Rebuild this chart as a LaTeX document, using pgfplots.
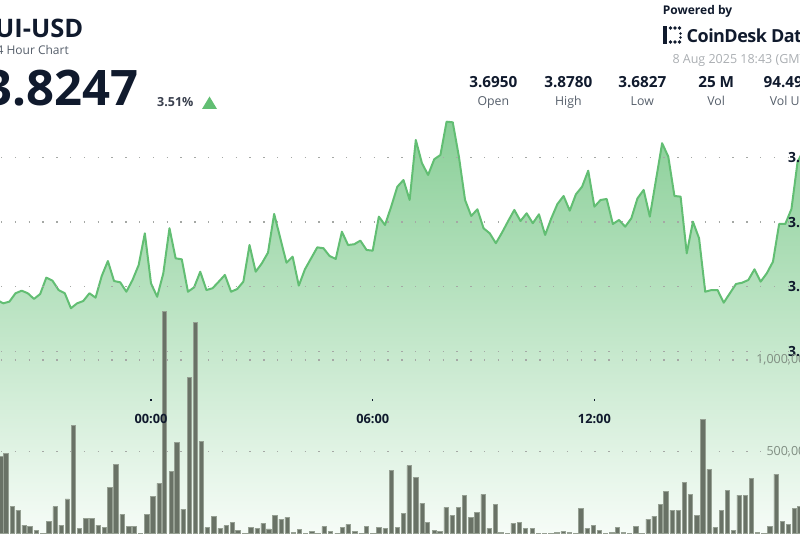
\documentclass[border=0pt]{standalone}
\usepackage{fontspec}
\setmainfont{Open Sans}
\usepackage{pgfplots}
\usepackage{pgfplotstable}
\pgfplotsset{compat=1.18}

\definecolor{navy}{RGB}{16,26,45}
\definecolor{subgray}{RGB}{85,94,106}
\definecolor{pctgray}{RGB}{58,64,78}
\definecolor{dategray}{RGB}{170,174,178}
\definecolor{upgreen}{RGB}{98,190,115}
\definecolor{filltop}{RGB}{138,207,152}
\definecolor{fillmid}{RGB}{198,233,204}
\definecolor{fillbot}{RGB}{246,252,247}
\definecolor{barfill}{RGB}{105,114,102}
\definecolor{baredge}{RGB}{150,160,147}
\definecolor{gridgray}{RGB}{165,168,165}
\definecolor{volgray}{RGB}{128,142,130}

% price, 10-minute steps, minutes from 00:00
\pgfplotstableread{
t p
-260 3.7420
-250 3.7397
-240 3.7371
-230 3.7384
-220 3.7449
-210 3.7469
-200 3.7449
-190 3.7405
-180 3.7443
-170 3.7570
-160 3.7547
-150 3.7474
-140 3.7449
-130 3.7333
-120 3.7371
-110 3.7389
-100 3.7449
-90 3.7415
-80 3.7583
-70 3.7699
-60 3.7544
-50 3.7534
-40 3.7461
-30 3.7552
-20 3.7668
-10 3.7914
0 3.7526
10 3.7422
20 3.7604
30 3.7953
40 3.7720
50 3.7712
60 3.7461
70 3.7495
80 3.7616
90 3.7474
100 3.7488
110 3.7539
120 3.7591
130 3.7461
140 3.7482
150 3.7539
160 3.7823
170 3.7616
180 3.7681
190 3.7764
200 3.8064
210 3.7875
220 3.7686
230 3.7733
240 3.7508
250 3.7635
260 3.7720
270 3.7805
280 3.7798
290 3.7738
300 3.7715
310 3.7926
320 3.7823
330 3.7829
340 3.7857
350 3.7785
360 3.7779
370 3.8043
380 3.7978
390 3.8120
400 3.8275
410 3.8327
420 3.8172
430 3.8637
440 3.8457
450 3.8366
460 3.8488
470 3.8521
480 3.8779
490 3.8774
500 3.8508
510 3.8172
520 3.8048
530 3.8100
540 3.7953
550 3.7914
560 3.7837
570 3.7919
580 3.8009
590 3.8095
600 3.8009
610 3.8069
620 3.7992
630 3.8061
640 3.7901
650 3.8030
660 3.8141
670 3.8203
680 3.8089
690 3.8216
700 3.8275
710 3.8399
720 3.8120
730 3.8172
740 3.8180
750 3.7986
760 3.8017
770 3.7965
780 3.8030
790 3.8185
800 3.8250
810 3.8043
820 3.8327
830 3.8612
840 3.8508
850 3.8203
860 3.8198
870 3.7759
880 3.8004
890 3.7875
900 3.7461
910 3.7474
920 3.7474
930 3.7376
940 3.7449
950 3.7521
960 3.7531
970 3.7552
980 3.7635
990 3.7539
1000 3.7604
1010 3.7694
1020 3.7986
1030 3.7986
1040 3.8102
1050 3.8469
1060 3.8560
1070 3.8400
1080 3.8350
1090 3.8280
1100 3.8300
1110 3.8260
1120 3.8247
}\price

% volume per bar
\pgfplotstableread{
t v
-244 470400
-236 489000
-225 200400
-216 178500
-206 96400
-197 90900
-186 65200
-176 40000
-166 114500
-156 196600
-146 96400
-136 238800
-126 644000
-116 78300
-106 133100
-96 133100
-86 96400
-76 81600
-67 300600
-57 428800
-47 155000
-36 90900
-27 90900
-17 40000
-7 155000
3 251400
13 324700
22 1268300
33 392100
42 547100
52 184000
62 905200
72 1206400
82 552600
91 81600
102 145700
112 78300
122 92500
132 109000
141 69000
152 40000
162 81600
172 78300
182 105700
191 75000
201 147300
211 129200
221 138500
231 58000
241 72800
251 35000
261 59700
271 35000
281 87100
291 59700
302 35000
311 83800
320 100200
331 59700
341 35000
350 90900
360 35000
370 83800
380 78300
390 397600
400 81600
410 160500
419 421100
430 355400
440 215200
449 109000
460 69000
469 59700
479 193300
489 147300
499 193300
509 260700
519 138500
529 165900
539 264500
549 78300
559 211400
568 54200
579 35000
588 105700
598 109000
608 78300
619 78300
629 35000
639 35000
649 35000
659 56400
669 59700
679 54200
689 35000
698 187800
708 78300
718 92500
728 69000
738 35000
748 56400
757 83800
767 56400
777 35000
787 90900
797 35000
807 129200
817 145700
827 211400
836 282600
846 178500
856 178500
866 330200
876 266100
886 147300
896 675200
906 401400
916 81600
926 174700
936 284200
946 65200
955 260700
965 260700
975 352100
985 56400
995 35000
1005 90900
1015 375700
1025 118300
1035 100200
1045 187800
1053 196600
}\volume

\pgfplotsset{
  chartbase/.style={
    scale only axis, width=800pt,
    anchor=south west,
    xmin=-245.2, xmax=1053.9,
    axis line style={draw=none},
    /pgf/number format/assume math mode=true,
  },
  dotgrid/.style={
    grid style={gridgray, line width=1.4pt, dash pattern=on 1.4pt off 12.4pt, dash phase=-1pt},
  },
}

\begin{document}
\begin{tikzpicture}
\useasboundingbox (0,0) rectangle (800pt,533pt);
\clip (0,0) rectangle (800pt,533pt);

% price area
\begin{axis}[chartbase, dotgrid,
  at={(0,0)}, height=533pt,
  ymin=3.5591, ymax=3.9722,
  xtick=\empty,
  ytick={3.70,3.75,3.80,3.85},
  yticklabels={3.70,3.75,3.80,3.85},
  yticklabel pos=right, major tick length=0pt,
  ymajorgrids, axis on top,
  yticklabel style={anchor=west, xshift=-15.5pt,
    font=\bfseries\fontsize{14}{16}\selectfont, text=navy},
]
\addplot[draw=none, top color=filltop, middle color=fillmid, bottom color=fillbot]
  table[x=t, y=p] {\price} -- (1120,3.5591) -- (-260,3.5591) -- cycle;
\addplot[upgreen, line width=2pt, line join=round] table[x=t, y=p] {\price};
\end{axis}

% volume bars
\begin{axis}[chartbase, dotgrid,
  at={(0,0)}, height=533pt,
  ymin=52600, ymax=2971400,
  xtick=\empty,
  ytick={500000,1000000},
  yticklabels={{500,000},{1,000,000}},
  scaled y ticks=false,
  yticklabel pos=right, major tick length=0pt,
  ymajorgrids,
  yticklabel style={anchor=east, xshift=16pt,
    font=\fontsize{12.5}{15}\selectfont, text=volgray},
]
\addplot[ybar, bar width=7, fill=barfill, draw=baredge, line width=0.5pt]
  table[x=t, y=v] {\volume};
\end{axis}

% time labels
\begin{axis}[chartbase,
  at={(0,134pt)}, height=399pt,
  ymin=0, ymax=1, ytick=\empty,
  xtick={0,360,720,1080},
  xticklabels={00:00,06:00,12:00,18:00},
  xtick pos=bottom, tick align=outside,
  major tick length=1.6pt,
  xtick style={draw=navy, line width=1.4pt},
  xticklabel style={yshift=-10pt,
    font=\bfseries\fontsize{12.8}{15}\selectfont, text=navy},
]
\end{axis}

% header left
\node[anchor=base east, inner sep=0, text=navy,
  font=\bfseries\fontsize{25.5}{30}\selectfont] at (83.5pt,495pt) {SUI-USD};
\node[anchor=base east, inner sep=0, text=subgray,
  font=\fontsize{12}{14}\selectfont] at (69pt,478pt) {24 Hour Chart};
\node[anchor=base east, inner sep=0, text=navy,
  font=\bfseries\fontsize{49}{58}\selectfont] at (139pt,427pt) {3.8247};
\node[anchor=base west, inner sep=0, text=pctgray,
  font=\bfseries\fontsize{12.5}{15}\selectfont] at (157pt,426.3pt) {3.51\%};
\fill[upgreen] (202pt,424pt) -- (217pt,424pt) -- (209.5pt,436.5pt) -- cycle;

% header right
\node[anchor=base west, inner sep=0, text=navy,
  font=\bfseries\fontsize{12}{14}\selectfont] at (662.7pt,518pt) {Powered by};
\fill[navy] (663pt,489pt) rectangle (667pt,507pt);
\foreach \xx in {670.5,675,679.5} {
  \fill[navy] (\xx pt,505pt) circle (1.8pt);
  \fill[navy] (\xx pt,491pt) circle (1.8pt);
}
\fill[navy] (680.5pt,499.5pt) circle (1.4pt);
\fill[navy] (680.5pt,495.5pt) circle (1.4pt);
\node[anchor=base west, inner sep=0, text=navy,
  font=\bfseries\fontsize{18}{22}\selectfont\addfontfeature{LetterSpace=-3}] at (686.5pt,490pt) {CoinDesk Data};
\node[anchor=base west, inner sep=0, text=dategray,
  font=\fontsize{12.5}{15}\selectfont] at (672.3pt,469.5pt) {8 Aug 2025 18:43 (GMT)};

\foreach \cx/\val/\lab in {493.3/3.6950/Open, 568.3/3.8780/High,
    642.3/3.6827/Low, 716.2/25 M/Vol, 792.5/94.49 M/Vol USD} {
  \node[anchor=base, inner sep=0, text=navy,
    font=\bfseries\fontsize{15.3}{18}\selectfont] at (\cx pt,445.7pt) {\val};
  \node[anchor=base, inner sep=0, text=subgray,
    font=\fontsize{12.3}{15}\selectfont] at (\cx pt,427pt) {\lab};
}
\end{tikzpicture}
\end{document}
